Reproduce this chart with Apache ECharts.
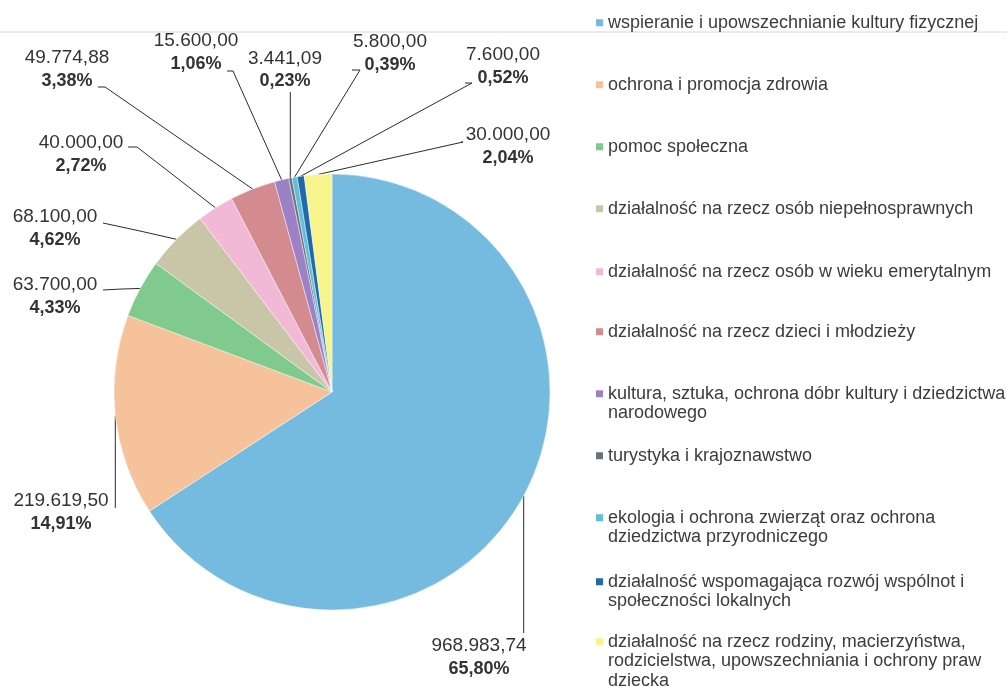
<!DOCTYPE html>
<html><head><meta charset="utf-8">
<script src="https://cdn.jsdelivr.net/npm/echarts@6/dist/echarts.min.js"></script>
<style>html,body{margin:0;padding:0;background:#fff}#chart{width:1007px;height:687px}</style>
</head><body><div id="chart"></div>
<script>
// ---- data ----
const categories = [
  'wspieranie i upowszechnianie kultury fizycznej',
  'ochrona i promocja zdrowia',
  'pomoc społeczna',
  'działalność na rzecz osób niepełnosprawnych',
  'działalność na rzecz osób w wieku emerytalnym',
  'działalność na rzecz dzieci i młodzieży',
  'kultura, sztuka, ochrona dóbr kultury i dziedzictwa\nnarodowego',
  'turystyka i krajoznawstwo',
  'ekologia i ochrona zwierząt oraz ochrona\ndziedzictwa przyrodniczego',
  'działalność wspomagająca rozwój wspólnot i\nspołeczności lokalnych',
  'działalność na rzecz rodziny, macierzyństwa,\nrodzicielstwa, upowszechniania i ochrony praw\ndziecka'
];
const values = [968983.74, 219619.50, 63700.00, 68100.00, 40000.00, 49774.88, 15600.00, 3441.09, 5800.00, 7600.00, 30000.00];

// ---- styles / layout ----
const colors = ['#74bbdf','#f5c29b','#7fca8c','#c9c5a9','#f2b9d6','#d38b8f','#9c82c4','#6c707c','#64bddb','#1f6aa9','#f6f48b'];
const labelPos = [[479,657.5],[61,512.5],[55,296.5],[55,228.5],[81,154.5],[67,69.5],[196,52.5],[285,70],[390,53.5],[503,66.5],[508,146.5]];
const guides = [
  {v:633},
  {v:508},
  {p1:[122,289],p2:[103,290]},
  {p1:[140,231],p2:[103,223]},
  {p1:[137,147],p2:[128,147]},
  {p1:[105,87],p2:[98,87]},
  {p1:[233,71],p2:[227,71]},
  {v:92},
  {p1:[360,70],p2:[352,70]},
  {p1:[472,83],p2:[465,83]},
  {p1:[463,142],p2:[461,142]}
];
const legendY = [22, 84, 146, 208, 271, 331, 393, 455, 517, 581, 641];
const LH = 19.5;

const total = values.reduce((a,b)=>a+b,0);
function fmtNum(v){
  const s = v.toFixed(2).split('.');
  return s[0].replace(/\B(?=(\d{3})+(?!\d))/g,'.') + ',' + s[1];
}
function fmtPct(v){ return (v/total*100).toFixed(2).replace('.',',') + '%'; }

const chart = echarts.init(document.getElementById('chart'));
const FONT = '"Liberation Sans", Arial, sans-serif';

const legends = categories.map((c,i)=>{
  const n = c.split('\n').length;
  const h = (n-1)*LH + 7;
  return {
    data:[c], orient:'vertical', left:596, top: legendY[i]-9, padding:0,
    itemWidth:7, itemHeight:h, itemGap:0, selectedMode:false,
    icon: n === 1 ? 'rect' : ('path://M0,0H7V7H0Z M0,' + h),
    itemStyle:{borderWidth:0},
    textStyle:{fontSize:18, lineHeight:LH, color:'#3c3c3c', fontFamily:FONT}
  };
});

chart.setOption({
  animation:false,
  backgroundColor:'#ffffff',
  graphic:[{type:'line', shape:{x1:0,y1:32,x2:1007,y2:32}, style:{stroke:'#d6d6d6', lineWidth:1}, z:-10, silent:true}],
  legend: legends,
  series:[{
    type:'pie',
    center:[332,392],
    radius:218,
    startAngle:90,
    clockwise:true,
    avoidLabelOverlap:false,
    emphasis:{disabled:true},
    data: categories.map((c,i)=>({name:c, value:values[i], itemStyle:{color:colors[i]}})),
    itemStyle:{borderColor:'rgba(255,255,255,0.55)', borderWidth:0.8},
    label:{
      show:true, position:'outside', fontFamily:FONT,
      formatter: p => '{v|' + fmtNum(values[p.dataIndex]) + '}\n{p|' + fmtPct(values[p.dataIndex]) + '}',
      rich:{
        v:{fontSize:19, lineHeight:23, color:'#333', fontFamily:FONT},
        p:{fontSize:18, lineHeight:23, color:'#333', fontWeight:'bold', fontFamily:FONT}
      }
    },
    labelLine:{show:true, length:10, length2:10, lineStyle:{color:'#2b2b2b', width:1}},
    labelLayout: function(params){
      const i = params.dataIndex;
      const pos = labelPos[i];
      const p0 = (params.labelLinePoints && params.labelLinePoints[0]) || [0,0];
      const g = guides[i];
      let pts;
      if (g.v != null) pts = [[p0[0],p0[1]],[p0[0],g.v],[p0[0],g.v]];
      else pts = [[p0[0],p0[1]], g.p1, g.p2];
      return {x:pos[0], y:pos[1], align:'center', verticalAlign:'middle', labelLinePoints:pts};
    }
  }]
});
</script>
</body></html>
